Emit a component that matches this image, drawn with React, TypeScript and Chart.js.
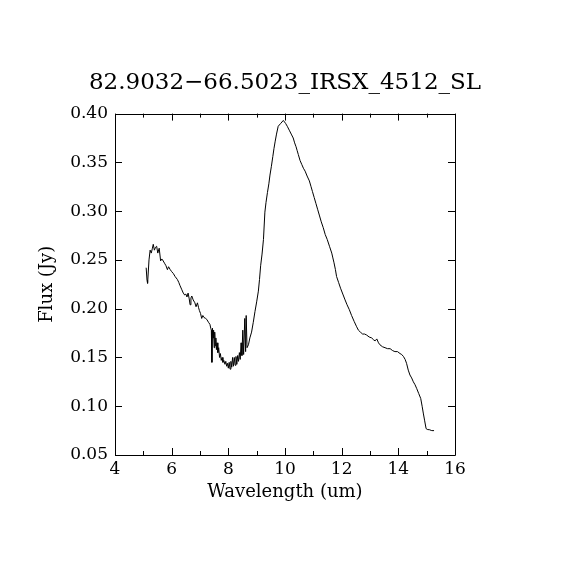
import React, { useEffect, useRef } from "react";
import { Chart, registerables } from "chart.js";

Chart.register(...registerables);

const TITLE = "82.9032\u221266.5023_IRSX_4512_SL";
const X_LABEL = "Wavelength (um)";
const Y_LABEL = "Flux (Jy)";

const wavelengths = [
  5.10, 5.13, 5.15, 5.20, 5.24, 5.28, 5.32, 5.35, 5.39, 5.43, 5.47, 5.51, 5.56, 5.61, 5.65, 5.68,
  5.76, 5.80, 5.85, 5.89, 5.95, 6.00, 6.06, 6.12, 6.20, 6.25, 6.29, 6.35, 6.41, 6.46, 6.50, 6.54,
  6.58, 6.62, 6.65, 6.68, 6.71, 6.76, 6.82, 6.86, 6.91, 6.95, 6.98, 7.02, 7.06, 7.10, 7.14, 7.20,
  7.24, 7.30, 7.35, 7.38, 7.40, 7.42, 7.44, 7.46, 7.48, 7.50, 7.52, 7.54, 7.56, 7.58, 7.60, 7.63,
  7.66, 7.69, 7.72, 7.75, 7.78, 7.81, 7.84, 7.88, 7.91, 7.94, 7.97, 8.00, 8.03, 8.06, 8.09, 8.12,
  8.15, 8.18, 8.21, 8.24, 8.27, 8.30, 8.33, 8.36, 8.39, 8.42, 8.45, 8.48, 8.51, 8.54, 8.58, 8.61,
  8.63, 8.66, 8.71, 8.76, 8.82, 8.88, 8.94, 9.00, 9.06, 9.10, 9.14, 9.19, 9.24, 9.29, 9.33, 9.38,
  9.43, 9.47, 9.52, 9.57, 9.61, 9.65, 9.70, 9.76, 9.85, 9.94, 10.02, 10.08, 10.15, 10.22, 10.29,
  10.34, 10.39, 10.43, 10.47, 10.53, 10.59, 10.65, 10.71, 10.78, 10.86, 10.92, 10.97, 11.03, 11.09,
  11.15, 11.21, 11.28, 11.35, 11.42, 11.49, 11.57, 11.65, 11.69, 11.73, 11.78, 11.82, 11.89, 11.96,
  12.04, 12.12, 12.19, 12.27, 12.35, 12.44, 12.52, 12.59, 12.66, 12.74, 12.81, 12.88, 12.97, 13.06,
  13.13, 13.18, 13.24, 13.30, 13.35, 13.44, 13.53, 13.62, 13.71, 13.80, 13.88, 13.97, 14.06, 14.12,
  14.18, 14.24, 14.29, 14.35, 14.41, 14.47, 14.53, 14.59, 14.65, 14.72, 14.79, 14.84, 14.88, 14.93,
  14.98, 15.04, 15.09, 15.18, 15.26,
];

const flux = [
  0.242, 0.229, 0.226, 0.250, 0.260, 0.257, 0.262, 0.266, 0.260, 0.263, 0.264, 0.257, 0.262, 0.249, 0.251, 0.250,
  0.246, 0.244, 0.240, 0.243, 0.240, 0.238, 0.236, 0.233, 0.230, 0.227, 0.224, 0.220, 0.216, 0.214, 0.215, 0.212,
  0.216, 0.210, 0.204, 0.211, 0.213, 0.209, 0.206, 0.202, 0.206, 0.201, 0.198, 0.195, 0.190, 0.193, 0.191, 0.190,
  0.189, 0.186, 0.184, 0.180, 0.178, 0.145, 0.180, 0.170, 0.178, 0.160, 0.176, 0.162, 0.170, 0.158, 0.165, 0.155,
  0.160, 0.150, 0.154, 0.147, 0.150, 0.145, 0.147, 0.143, 0.146, 0.141, 0.144, 0.139, 0.145, 0.138, 0.146, 0.140,
  0.150, 0.141, 0.150, 0.142, 0.151, 0.143, 0.152, 0.146, 0.155, 0.148, 0.165, 0.152, 0.178, 0.153, 0.190, 0.156,
  0.193, 0.160, 0.163, 0.170, 0.176, 0.186, 0.197, 0.207, 0.218, 0.230, 0.244, 0.256, 0.271, 0.299, 0.309, 0.319,
  0.328, 0.337, 0.346, 0.356, 0.364, 0.371, 0.379, 0.387, 0.390, 0.393, 0.390, 0.387, 0.383, 0.379, 0.375,
  0.370, 0.366, 0.362, 0.358, 0.352, 0.348, 0.344, 0.341, 0.336, 0.331, 0.325, 0.320, 0.314, 0.308,
  0.302, 0.296, 0.289, 0.283, 0.276, 0.271, 0.264, 0.257, 0.252, 0.247, 0.240, 0.233, 0.227, 0.221,
  0.215, 0.209, 0.204, 0.199, 0.193, 0.187, 0.182, 0.178, 0.176, 0.174, 0.174, 0.173, 0.171, 0.170,
  0.168, 0.167, 0.169, 0.165, 0.163, 0.161, 0.160, 0.159, 0.159, 0.157, 0.156, 0.156, 0.154, 0.153,
  0.151, 0.148, 0.144, 0.137, 0.132, 0.129, 0.125, 0.122, 0.118, 0.113, 0.108, 0.100, 0.093, 0.085,
  0.077, 0.076, 0.076, 0.075, 0.075,
];

const X_MIN = 4;
const X_MAX = 16;
const X_STEP = 2;
const X_MINOR = 1;
const Y_MIN = 0.05;
const Y_MAX = 0.40;
const Y_STEP = 0.05;

const FONT = "'DejaVu Serif', 'Liberation Serif', serif";

const framePlugin = {
  id: "frameTicks",
  afterDatasetsDraw(chart: any) {
    const { ctx, chartArea } = chart;
    const { left, right, top, bottom } = chartArea;
    const xs = chart.scales.x;
    const ys = chart.scales.y;
    ctx.save();
    ctx.strokeStyle = "#000";
    ctx.lineWidth = 1;
    ctx.beginPath();
    ctx.rect(Math.round(left) + 0.5, Math.round(top) + 0.5, Math.round(right - left), Math.round(bottom - top));
    ctx.stroke();
    ctx.beginPath();
    for (let v = X_MIN; v <= X_MAX + 1e-9; v += X_MINOR) {
      const major = Math.abs((v - X_MIN) / X_STEP - Math.round((v - X_MIN) / X_STEP)) < 1e-6;
      const len = major ? 7 : 4;
      const px = Math.round(xs.getPixelForValue(v)) + 0.5;
      ctx.moveTo(px, bottom);
      ctx.lineTo(px, bottom - len);
      ctx.moveTo(px, top);
      ctx.lineTo(px, top + len);
    }
    for (let v = Y_MIN; v <= Y_MAX + 1e-9; v += Y_STEP) {
      const py = Math.round(ys.getPixelForValue(v)) + 0.5;
      ctx.moveTo(left, py);
      ctx.lineTo(left + 7, py);
      ctx.moveTo(right, py);
      ctx.lineTo(right - 7, py);
    }
    ctx.stroke();
    ctx.restore();
  },
};

export default function App() {
  const ref = useRef<HTMLCanvasElement | null>(null);

  useEffect(() => {
    if (!ref.current) return;
    const points = wavelengths.map((w, i) => ({ x: w, y: flux[i] }));
    const chart = new Chart(ref.current, {
      type: "line",
      data: {
        datasets: [
          {
            data: points,
            borderColor: "#000",
            borderWidth: 1,
            pointRadius: 0,
            tension: 0,
            fill: false,
          },
        ],
      },
      options: {
        animation: false,
        responsive: false,
        devicePixelRatio: 1,
        layout: { padding: 0 },
        plugins: {
          legend: { display: false },
          tooltip: { enabled: false },
          title: {
            display: true,
            text: TITLE,
            color: "#000",
            font: { family: FONT, size: 23, weight: "normal" },
            padding: { top: 69, bottom: 17 },
          },
        },
        scales: {
          x: {
            type: "linear",
            min: X_MIN,
            max: X_MAX,
            grid: { display: false, drawTicks: false },
            border: { display: false },
            ticks: {
              stepSize: X_STEP,
              color: "#000",
              padding: 4,
              maxRotation: 0,
              font: { family: FONT, size: 17 },
            },
            title: {
              display: true,
              text: X_LABEL,
              color: "#000",
              font: { family: FONT, size: 18 },
              padding: { top: 0, bottom: 67 },
            },
            afterFit: (s: any) => {
              s.height = 115;
            },
          },
          y: {
            type: "linear",
            min: Y_MIN,
            max: Y_MAX,
            grid: { display: false, drawTicks: false },
            border: { display: false },
            ticks: {
              stepSize: Y_STEP,
              color: "#000",
              padding: 7,
              font: { family: FONT, size: 17 },
              callback: (v: any) => Number(v).toFixed(2),
            },
            title: {
              display: true,
              text: Y_LABEL,
              color: "#000",
              font: { family: FONT, size: 18 },
              padding: { top: 37, bottom: 0 },
            },
            afterFit: (s: any) => {
              s.width = 115;
            },
          },
          yRight: {
            type: "linear",
            position: "right",
            min: Y_MIN,
            max: Y_MAX,
            grid: { display: false, drawTicks: false },
            border: { display: false },
            ticks: { display: false },
            afterFit: (s: any) => {
              s.width = 115;
            },
          },
        },
      },
      plugins: [framePlugin],
    });
    return () => chart.destroy();
  }, []);

  return (
    <div style={{ position: "absolute", left: 0, top: 0, width: 570, height: 570, background: "#fff" }}>
      <canvas ref={ref} width={570} height={570} style={{ width: 570, height: 570, display: "block" }} />
    </div>
  );
}
